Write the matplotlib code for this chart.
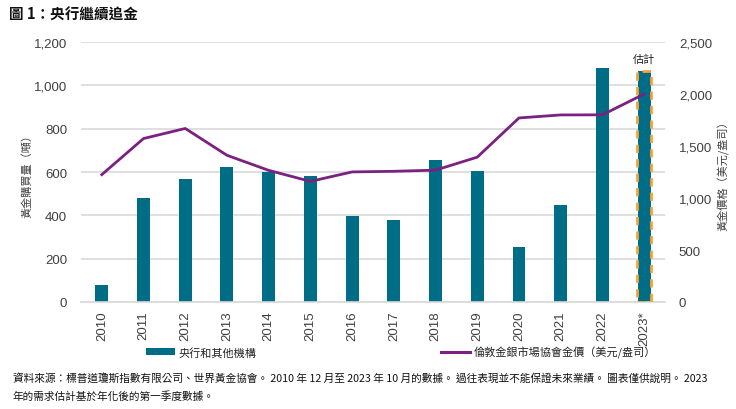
import matplotlib
matplotlib.use("Agg")
import matplotlib.pyplot as plt
from matplotlib.patches import Patch
from matplotlib.lines import Line2D
from matplotlib.ticker import FuncFormatter, FixedLocator

plt.rcParams['font.family'] = ['Liberation Sans', 'Noto Sans CJK TC', 'DejaVu Sans']
CJK = ['Noto Sans CJK TC', 'Liberation Sans', 'DejaVu Sans']

years = ['2010', '2011', '2012', '2013', '2014', '2015', '2016', '2017',
         '2018', '2019', '2020', '2021', '2022', '2023*']
cb_purchases = [79, 480, 566, 625, 600, 580, 395, 380, 656, 605, 254, 450, 1082, 1067]
lbma_price = [1225, 1572, 1669, 1411, 1266, 1160, 1251, 1257, 1268, 1393, 1770, 1799, 1800, 2000]
left_ticks = [0, 200, 400, 600, 800, 1000, 1200]
right_ticks = [0, 500, 1000, 1500, 2000, 2500]

bar_color = '#006D87'
line_color = '#7B2181'
orange = '#F4A33A'
grid_color = '#D9D9D9'
text_color = '#404040'

fig = plt.figure(figsize=(7.36, 4.10), dpi=100)
ax = fig.add_axes([0.110, 0.261, 0.7935, 0.634])
ax2 = ax.twinx()

x = list(range(len(years)))
bars = ax.bar(x, cb_purchases, width=0.31, color=bar_color, zorder=2)
ax.bar([x[-1]], [cb_purchases[-1]], width=0.33, facecolor='none', edgecolor=orange,
       linewidth=2, linestyle=(0, (3, 2.2)), zorder=3)
ax.text(x[-1], 1100, '估計', ha='center', va='bottom', fontsize=8, family=CJK, color='#222222')

ax2.plot(x, lbma_price, color=line_color, linewidth=2, zorder=4)

ax.set_xlim(-0.5, len(years) - 0.5)
ax.set_ylim(0, 1200)
ax2.set_ylim(0, 2500)
ax.yaxis.set_major_locator(FixedLocator(left_ticks))
ax2.yaxis.set_major_locator(FixedLocator(right_ticks))
fmt = FuncFormatter(lambda v, p: f'{int(v):,}')
ax.yaxis.set_major_formatter(fmt)
ax2.yaxis.set_major_formatter(fmt)

ax.set_xticks(x)
ax.set_xticklabels(years, rotation=90, fontsize=9.5, color=text_color)
ax.tick_params(axis='x', length=0, pad=6)
ax.tick_params(axis='y', length=0, labelsize=9.5, labelcolor=text_color, pad=10)
ax2.tick_params(axis='y', length=0, labelsize=9.5, labelcolor=text_color, pad=10)

ax.grid(axis='y', color=grid_color, linewidth=1.2, zorder=0)
ax.set_axisbelow(True)
for a in (ax, ax2):
    for s in a.spines.values():
        s.set_visible(False)
ax.spines['bottom'].set_visible(True)
ax.spines['bottom'].set_color(grid_color)
ax.spines['bottom'].set_linewidth(1.2)

ax.set_ylabel('黃金購買量（噸）', family=CJK, fontsize=8, color=text_color, labelpad=1)
ax2.set_ylabel('黃金價格（美元/盎司）', family=CJK, fontsize=8, color=text_color, labelpad=4)

fig.text(0.012, 0.965, '圖 1：央行繼續追金', family=CJK, fontsize=10.5, fontweight='bold',
         ha='left', va='center', color='#111111')

h1 = [Patch(facecolor=bar_color, edgecolor='none')]
leg1 = fig.legend(h1, ['央行和其他機構'], loc='center left', bbox_to_anchor=(0.185, 0.139),
                  frameon=False, prop={'family': CJK, 'size': 8}, handlelength=2.6,
                  handleheight=0.6, handletextpad=0.3, labelcolor='#222222')
h2 = [Line2D([0], [0], color=line_color, linewidth=2.2)]
leg2 = fig.legend(h2, ['倫敦金銀市場協會金價（美元/盎司）'], loc='center left',
                  bbox_to_anchor=(0.586, 0.139), frameon=False,
                  prop={'family': CJK, 'size': 8}, handlelength=2.6, handletextpad=0.3,
                  labelcolor='#222222')

fig.text(0.017, 0.078, '資料來源：標普道瓊斯指數有限公司、世界黃金協會。 2010 年 12 月至 2023 年 10 月的數據。 過往表現並不能保證未來業績。 圖表僅供說明。 2023',
         family=CJK, fontsize=7.7, ha='left', va='center', color='#111111')
fig.text(0.017, 0.034, '年的需求估計基於年化後的第一季度數據。',
         family=CJK, fontsize=7.7, ha='left', va='center', color='#111111')

fig.savefig('out.png', dpi=100)
